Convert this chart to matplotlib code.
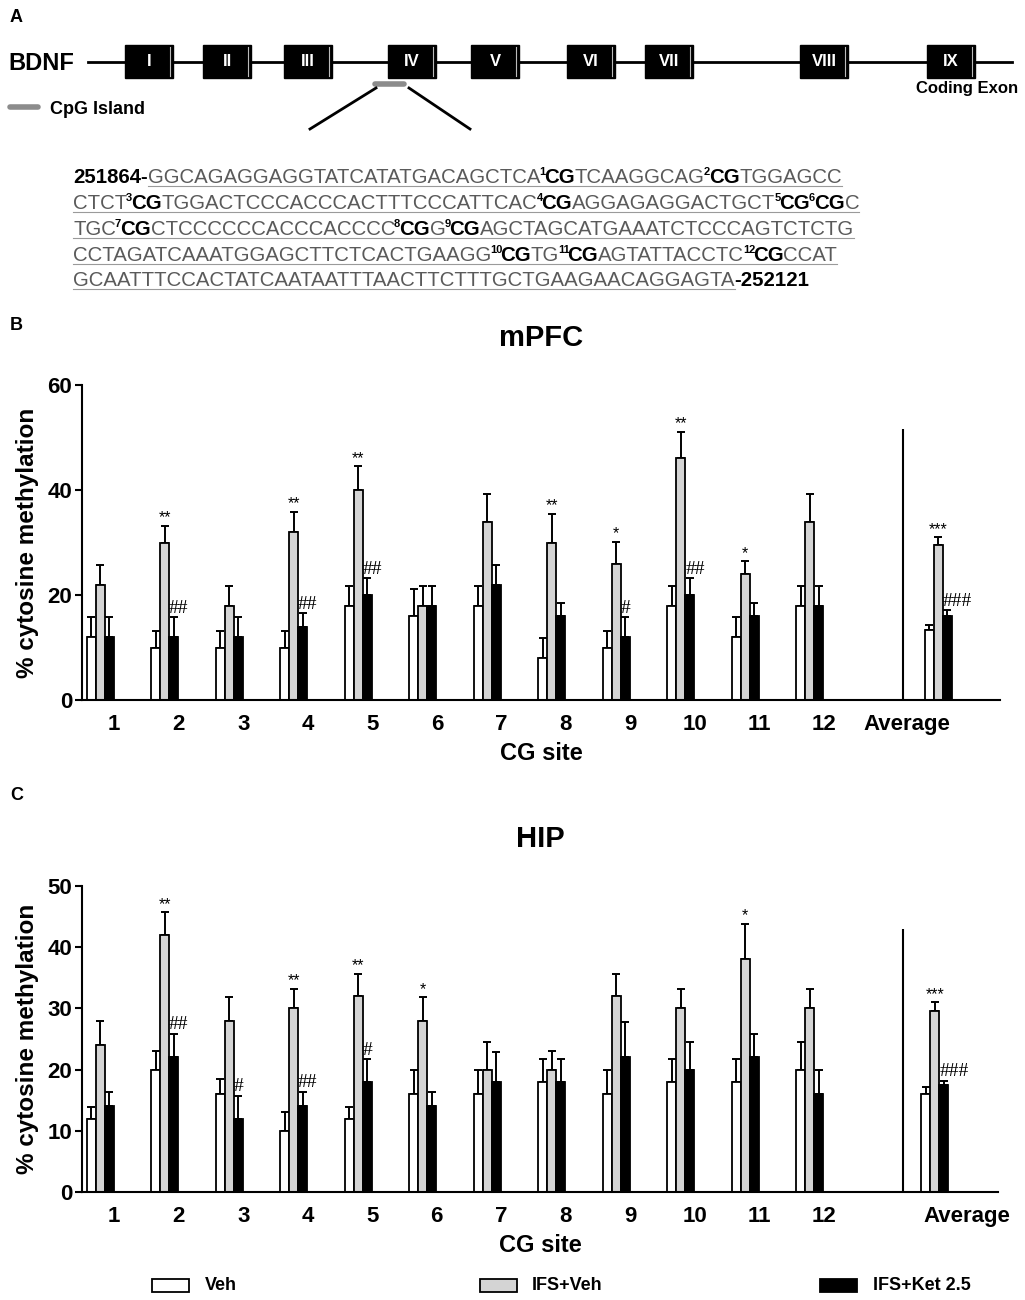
import re
import numpy as np
import matplotlib
matplotlib.use("Agg")
import matplotlib.pyplot as plt
from matplotlib.patches import Rectangle

plt.rcParams['font.family'] = ['Liberation Sans', 'DejaVu Sans']

# ---- panel A: gene map and CpG island sequence ----
exon_names = ['I', 'II', 'III', 'IV', 'V', 'VI', 'VII', 'VIII', 'IX']
exon_x = [149, 227, 308, 412, 495, 591, 669, 824, 951]

seq_start = '251864-'
seq_end = '-252121'
# {n} = CG site number n (superscript n followed by bold CG)
seq_lines = [
    'GGCAGAGGAGGTATCATATGACAGCTCA{1}TCAAGGCAG{2}TGGAGCC',
    'CTCT{3}TGGACTCCCACCCACTTTCCCATTCAC{4}AGGAGAGGACTGCT{5}{6}C',
    'TGC{7}CTCCCCCCACCCACCCC{8}G{9}AGCTAGCATGAAATCTCCCAGTCTCTG',
    'CCTAGATCAAATGGAGCTTCTCACTGAAGG{10}TG{11}AGTATTACCTC{12}CCAT',
    'GCAATTTCCACTATCAATAATTTAACTTCTTTGCTGAAGAACAGGAGTA',
]

# ---- panels B/C: % cytosine methylation per CG site (last = Average) ----
site_labels = [str(i) for i in range(1, 13)] + ['Average']
groups = ['Veh', 'IFS+Veh', 'IFS+Ket 2.5']

mpfc_veh = [12, 10, 10, 10, 18, 16, 18, 8, 10, 18, 12, 18, 13.4]
mpfc_veh_se = [3.8, 3.2, 3.2, 3.2, 3.8, 5.2, 3.8, 3.8, 3.2, 3.7, 3.8, 3.7, 0.9]
mpfc_ifs = [22, 30, 18, 32, 40, 18, 34, 30, 26, 46, 24, 34, 29.5]
mpfc_ifs_se = [3.8, 3.2, 3.8, 3.8, 4.5, 3.8, 5.2, 5.5, 4.1, 5.1, 2.4, 5.2, 1.5]
mpfc_ket = [12, 12, 12, 14, 20, 18, 22, 16, 12, 20, 16, 18, 16]
mpfc_ket_se = [3.8, 3.8, 3.8, 2.5, 3.2, 3.8, 3.8, 2.5, 3.8, 3.2, 2.4, 3.7, 1.1]
mpfc_stars = ['', '**', '', '**', '**', '', '', '**', '*', '**', '*', '', '***']
mpfc_hash = ['', '##', '', '##', '##', '', '', '', '#', '##', '', '', '###']

hip_veh = [12, 20, 16, 10, 12, 16, 16, 18, 16, 18, 18, 20, 16]
hip_veh_se = [1.9, 3.1, 2.4, 3.1, 1.9, 4, 4, 3.7, 4, 3.7, 3.7, 4.5, 1.1]
hip_ifs = [24, 42, 28, 30, 32, 28, 20, 20, 32, 30, 38, 30, 29.5]
hip_ifs_se = [4, 3.7, 3.8, 3.2, 3.7, 3.8, 4.5, 3.1, 3.7, 3.2, 5.8, 3.2, 1.5]
hip_ket = [14, 22, 12, 14, 18, 14, 18, 18, 22, 20, 22, 16, 17.5]
hip_ket_se = [2.4, 3.8, 3.7, 2.4, 3.7, 2.4, 4.9, 3.7, 5.8, 4.5, 3.8, 4, 0.7]
hip_stars = ['', '**', '', '**', '**', '*', '', '', '', '', '*', '', '***']
hip_hash = ['', '##', '#', '##', '#', '', '', '', '', '', '', '', '###']

bar_colors = ['white', '#d4d4d4', 'black']
seq_gray = '#5a5a5a'

fig = plt.figure(figsize=(10.25, 13), dpi=100)

# overlay in pixel coordinates for panel A, letters and legend
ax0 = fig.add_axes([0, 0, 1, 1])
ax0.set_xlim(0, 1025)
ax0.set_ylim(1300, 0)
ax0.axis('off')

for letter, ly in [('A', 18), ('B', 325), ('C', 795)]:
    ax0.text(10, ly, letter, fontsize=13, fontweight='bold', va='center')

# gene map
ax0.plot([88, 1012], [62, 62], color='black', lw=2, zorder=1)
ax0.text(8, 63, 'BDNF', fontsize=17, fontweight='bold', va='center')
for name, cx in zip(exon_names, exon_x):
    ax0.add_patch(Rectangle((cx - 24, 45), 48, 33, facecolor='black',
                            edgecolor='black', zorder=2))
    ax0.plot([cx + 21, cx + 21], [47, 76], color='#bbbbbb', lw=0.8, zorder=3)
    ax0.text(cx, 62, name, color='white', fontsize=12, fontweight='bold',
             ha='center', va='center', zorder=4)
ax0.plot([375, 404], [84, 84], color='#8c8c8c', lw=4, solid_capstyle='round')
ax0.plot([376, 310], [88, 129], color='black', lw=2)
ax0.plot([409, 470], [88, 129], color='black', lw=2)
ax0.plot([10, 38], [107, 107], color='#8c8c8c', lw=4, solid_capstyle='round')
ax0.text(50, 110, 'CpG Island', fontsize=13, fontweight='bold', va='center')
ax0.text(1018, 88, 'Coding Exon', fontsize=12, fontweight='bold',
         ha='right', va='center')

# sequence, laid out run by run
renderer = fig.canvas.get_renderer()
seq_fs = 14.7


def put(x, y, s, adv=1.0, **kw):
    t = ax0.text(x, y, s, va='baseline', ha='left', **kw)
    bb = t.get_window_extent(renderer)
    return x + bb.width * adv


line_y = [183, 209, 235, 261, 286]
x_left = 73
for i, (line, y) in enumerate(zip(seq_lines, line_y)):
    x = x_left
    if i == 0:
        x = put(x, y, seq_start, fontsize=seq_fs, fontweight='bold', color='black')
    u0 = x
    parts = re.split(r'\{(\d+)\}', line)
    for k, p in enumerate(parts):
        if k % 2 == 0:
            if p:
                x = put(x, y, p, fontsize=seq_fs, color=seq_gray)
        else:
            x = put(x - 1, y - 8, p, adv=0.8, fontsize=8, fontweight='bold',
                    color='black')
            x = put(x, y, 'CG', fontsize=seq_fs, fontweight='bold', color='black')
    ax0.plot([u0, x], [y + 3, y + 3], color='#9a9a9a', lw=0.8)
    if i == len(seq_lines) - 1:
        put(x, y, seq_end, fontsize=seq_fs, fontweight='bold', color='black')

# legend
legend_x = [152, 480, 820]
text_x = [205, 532, 873]
for g, c, lx, tx in zip(groups, bar_colors, legend_x, text_x):
    ax0.add_patch(Rectangle((lx, 1279), 37, 13, facecolor=c,
                            edgecolor='black', lw=1.3))
    ax0.text(tx, 1286, g, fontsize=13, fontweight='bold', va='center')


def bar_panel(rect, veh, veh_se, ifs, ifs_se, ket, ket_se, stars, hashes,
              title, ymax, ystep, sep_top, avg_x, avg_label_x, xmax):
    ax = fig.add_axes(rect)
    x = np.append(np.arange(1, 13), avg_x).astype(float)
    w = 0.14
    series = [(veh, veh_se), (ifs, ifs_se), (ket, ket_se)]
    for j, ((vals, se), col) in enumerate(zip(series, bar_colors)):
        xs = x + (j - 1) * w
        ax.bar(xs, vals, w, color=col, edgecolor='black', linewidth=1.3, zorder=2)
        ax.errorbar(xs, vals, yerr=[np.zeros(len(se)), se], fmt='none',
                    ecolor='black', elinewidth=1.4, capsize=2.8,
                    capthick=1.4, zorder=1)
    for xi, v, s, st in zip(x, ifs, ifs_se, stars):
        if st:
            ax.text(xi, v + s + 0.1, st, ha='center', va='bottom', fontsize=11.5)
    for xi, v, s, h in zip(x, ket, ket_se, hashes):
        if h:
            ax.text(xi + 0.5 * w, v + s + 0.1, h, ha='left', va='bottom',
                    fontsize=14, family='Liberation Serif')
    ax.vlines(13.45, 0, sep_top, color='black', lw=1.5)
    ax.set_xlim(0.72, xmax)
    ax.set_ylim(0, ymax)
    ax.set_yticks(np.arange(0, ymax + 1, ystep))
    ticks = list(np.arange(1, 13) + 0.22) + [avg_label_x]
    ax.set_xticks(ticks)
    ax.set_xticklabels(site_labels)
    for sp in ['top', 'right']:
        ax.spines[sp].set_visible(False)
    for sp in ['left', 'bottom']:
        ax.spines[sp].set_linewidth(1.5)
    ax.tick_params(axis='x', length=0, pad=10, labelsize=16)
    ax.tick_params(axis='y', length=5, width=1.5, pad=2, labelsize=16)
    for lab in ax.get_xticklabels() + ax.get_yticklabels():
        lab.set_fontweight('bold')
    ax.set_ylabel('% cytosine methylation', fontsize=17.5, fontweight='bold',
                  labelpad=6)
    ax.set_xlabel('CG site', fontsize=17, fontweight='bold', labelpad=5)
    ax.set_title(title, fontsize=21, fontweight='bold', pad=28)
    return ax


bar_panel([82 / 1025, 1 - 700 / 1300, 918 / 1025, 315 / 1300],
          mpfc_veh, mpfc_veh_se, mpfc_ifs, mpfc_ifs_se, mpfc_ket, mpfc_ket_se,
          mpfc_stars, mpfc_hash, 'mPFC', 60, 20, 51.7, 13.99, 13.51, 14.95)
bar_panel([82 / 1025, 1 - 1192 / 1300, 916 / 1025, 306 / 1300],
          hip_veh, hip_veh_se, hip_ifs, hip_ifs_se, hip_ket, hip_ket_se,
          hip_stars, hip_hash, 'HIP', 50, 10, 43, 13.94, 14.43, 14.92)

fig.savefig('out.png', dpi=100)
